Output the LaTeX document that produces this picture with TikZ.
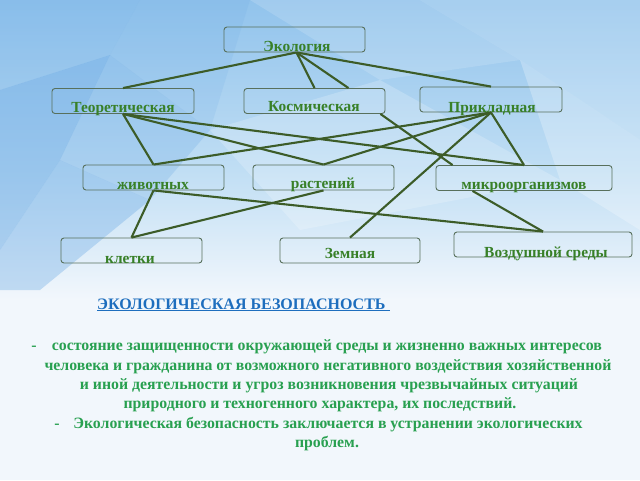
\documentclass[tikz,border=0pt]{standalone}
\usepackage{fontspec}
\setmainfont{Liberation Serif}
\usetikzlibrary{calc}
\definecolor{bgtop}{RGB}{145,195,236}
\definecolor{bgmid}{RGB}{192,222,244}
\definecolor{bgbot}{RGB}{242,247,252}
\definecolor{facetdark}{RGB}{105,168,228}
\definecolor{boxline}{RGB}{88,112,92}
\definecolor{lbl}{RGB}{56,128,40}
\definecolor{conn}{RGB}{60,92,40}
\definecolor{headblue}{RGB}{30,110,190}
\definecolor{paragreen}{RGB}{40,160,80}
\tikzset{
  box/.style={draw=boxline, line width=0.9pt, rounded corners=3pt, minimum height=25pt, inner sep=0pt},
  lab/.style={anchor=base, text=lbl, font=\fontsize{15.4}{16}\selectfont\bfseries, inner sep=0pt},
  link/.style={draw=conn, line width=2.1pt},
  para/.style={anchor=base, text=paragreen, font=\fontsize{15.8}{18}\selectfont\bfseries, inner sep=0pt},
}
\begin{document}
\begin{tikzpicture}[x=1pt,y=-1pt]
\useasboundingbox (0,0) rectangle (640,480);
% background
\shade[top color=bgtop, bottom color=bgmid] (0,0) rectangle (640,170);
\shade[top color=bgmid, bottom color=bgbot] (0,170) rectangle (640,300);
\fill[bgbot] (0,300) rectangle (640,480);
% facets
\fill[facetdark, opacity=0.45] (0,90) -- (110,55) -- (60,160) -- (0,250) -- cycle;
\fill[facetdark, opacity=0.35] (0,250) -- (60,160) -- (150,200) -- (40,290) -- (0,290) -- cycle;
\fill[facetdark, opacity=0.25] (60,160) -- (110,55) -- (210,130) -- (150,200) -- cycle;
\fill[facetdark, opacity=0.2] (0,0) -- (140,0) -- (110,55) -- (0,90) -- cycle;
\fill[white, opacity=0.2] (420,0) -- (640,0) -- (640,140) -- (520,60) -- cycle;
\fill[white, opacity=0.15] (250,0) -- (420,0) -- (520,60) -- (380,80) -- cycle;
\fill[white, opacity=0.25] (520,60) -- (640,140) -- (640,230) -- (560,180) -- cycle;
\fill[white, opacity=0.2] (210,130) -- (380,80) -- (560,180) -- (300,230) -- cycle;
\fill[facetdark, opacity=0.15] (140,0) -- (250,0) -- (210,130) -- (110,55) -- cycle;

% boxes
\node[box, minimum width=141pt] (eco) at (294.5,39.5) {};
\node[box, minimum width=142pt] (teo) at (123,101) {};
\node[box, minimum width=141pt] (kos) at (314.5,101) {};
\node[box, minimum width=142pt] (prik) at (491,99.5) {};
\node[box, minimum width=141pt] (zhiv) at (153.5,177.5) {};
\node[box, minimum width=141pt] (rast) at (323.5,177.5) {};
\node[box, minimum width=176pt] (mikro) at (524,178) {};
\node[box, minimum width=141pt] (klet) at (131.5,250.5) {};
\node[box, minimum width=140pt] (zem) at (350,250.5) {};
\node[box, minimum width=178pt] (vozd) at (543,244.5) {};

% connectors
\draw[link] ([xshift=2pt]eco.south) -- (teo.north);
\draw[link] ([xshift=2pt]eco.south) -- (kos.north);
\draw[link] ([xshift=2pt]eco.south) -- ([xshift=34pt]kos.north);
\draw[link] ([xshift=2pt]eco.south) -- (prik.north);
\draw[link] (teo.south) -- (zhiv.north);
\draw[link] (teo.south) -- (rast.north);
\draw[link] (teo.south) -- (mikro.north);
\draw[link] (prik.south) -- (zhiv.north);
\draw[link] (prik.south) -- (rast.north);
\draw[link] (prik.south) -- (mikro.north);
\draw[link] (prik.south) -- (zem.north);
\draw[link] ([xshift=-5pt]kos.south east) -- ([xshift=17pt]mikro.north west);
\draw[link] (zhiv.south) -- (klet.north);
\draw[link] (zhiv.south) -- (vozd.north);
\draw[link] (rast.south) -- (klet.north);
\draw[link] ([xshift=37pt]mikro.south west) -- (vozd.north);

% labels
\node[lab] (teco) at (297,51) {Экология};
\node[lab] (tteo) at (123,112) {Теоретическая};
\node[lab] (tkos) at (314,111) {Космическая};
\node[lab] (tprik) at (492,112) {Прикладная};
\node[lab] (tzhiv) at (153,189) {животных};
\node[lab] (trast) at (323,188) {растений};
\node[lab] (tmikro) at (524,189) {микроорганизмов};
\node[lab] (tklet) at (130,263) {клетки};
\node[lab] (tzem) at (350,258) {Земная};
\node[lab] (tvozd) at (546,257) {Воздушной среды};

% heading
\node[anchor=base west, text=headblue, inner sep=0pt, font=\fontsize{16}{16}\selectfont\bfseries] (head) at (97,309) {\underline{ЭКОЛОГИЧЕСКАЯ БЕЗОПАСНОСТЬ\ }};

% paragraph
\node[para] (d1) at (34,350) {-};
\node[para] (p1) at (327,350) {состояние защищенности окружающей среды и жизненно важных интересов};
\node[para] (p2) at (328,370) {человека и гражданина от возможного негативного воздействия хозяйственной};
\node[para] (p3) at (329,389) {и иной деятельности и угроз возникновения чрезвычайных ситуаций};
\node[para] (p4) at (320,408) {природного и техногенного характера, их последствий.};
\node[para] (d2) at (57,428) {-};
\node[para] (p5) at (328,428) {Экологическая безопасность заключается в устранении экологических};
\node[para] (p6) at (327,447) {проблем.};
\end{tikzpicture}
\end{document}
